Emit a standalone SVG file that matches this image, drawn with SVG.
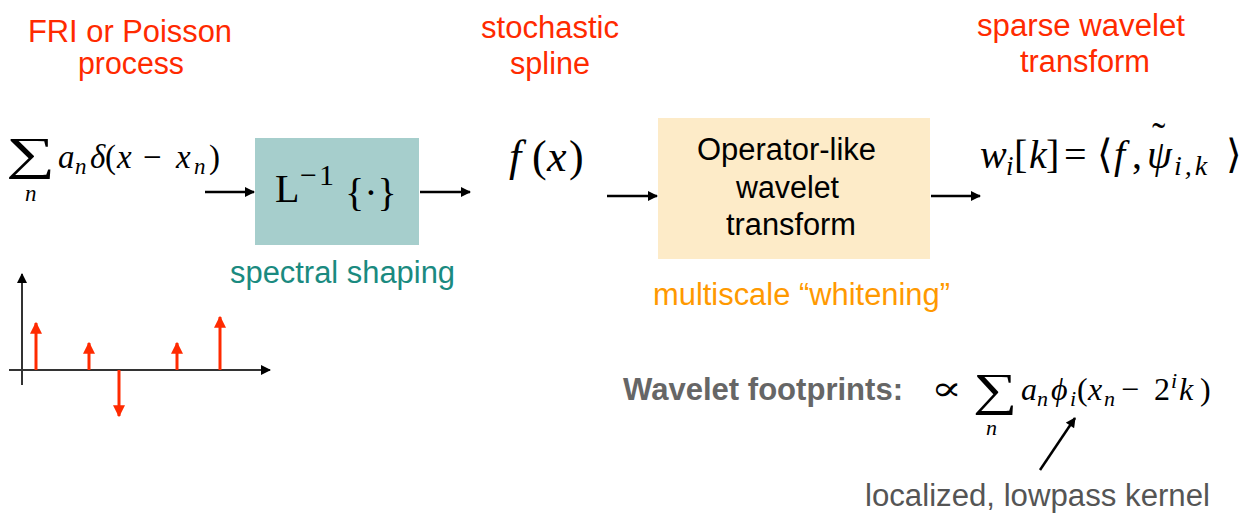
<svg xmlns="http://www.w3.org/2000/svg" width="1259" height="513" viewBox="0 0 1259 513">
<defs>
<style>
.lbl{font-family:"Liberation Sans",Arial,sans-serif;font-size:31px;}
.red{fill:#FF2A00;}
.m{font-family:"Liberation Serif","DejaVu Serif",serif;fill:#000;}
.mi{font-style:italic;}
.box{font-family:"Liberation Sans",Arial,sans-serif;font-size:31px;fill:#000;}
.conn{stroke:#000;stroke-width:2.5;fill:none;}
.stem{stroke:#FF2A00;stroke-width:3;}
.axis{stroke:#333;stroke-width:2;}
</style>
<marker id="ah" viewBox="0 0 10 10" refX="9" refY="5" markerWidth="4.4" markerHeight="4" orient="auto" markerUnits="strokeWidth">
<path d="M0,0 L10,5 L0,10 z" fill="#000"/>
</marker>
<marker id="ax" viewBox="0 0 10 10" refX="9" refY="5" markerWidth="5" markerHeight="5" orient="auto" markerUnits="strokeWidth">
<path d="M0,0 L10,5 L0,10 z" fill="#000"/>
</marker>
<marker id="rh" viewBox="0 0 10 10" refX="9" refY="5" markerWidth="4" markerHeight="4" orient="auto" markerUnits="strokeWidth">
<path d="M0,0 L10,5 L0,10 z" fill="#FF2A00"/>
</marker>
</defs>
<rect width="1259" height="513" fill="#fff"/>

<g id="title-fri">
<text class="lbl red" x="28" y="42" textLength="204" lengthAdjust="spacingAndGlyphs">FRI or Poisson</text>
<text class="lbl red" x="78" y="74" textLength="106" lengthAdjust="spacingAndGlyphs">process</text>
</g>
<g id="title-spline">
<text class="lbl red" x="481" y="38" textLength="138" lengthAdjust="spacingAndGlyphs">stochastic</text>
<text class="lbl red" x="510" y="74" textLength="80" lengthAdjust="spacingAndGlyphs">spline</text>
</g>
<g id="title-sparse">
<text class="lbl red" x="977" y="36" textLength="208" lengthAdjust="spacingAndGlyphs">sparse wavelet</text>
<text class="lbl red" x="1020" y="72" textLength="130" lengthAdjust="spacingAndGlyphs">transform</text>
</g>

<g id="input-formula">
<text class="m" transform="translate(6,169) scale(1.5,1)" x="0" y="0" font-size="46">∑</text>
<text class="m mi" x="25" y="201" font-size="23">n</text>
<text class="m mi" font-size="33" y="168"><tspan x="58">a</tspan><tspan x="75" dy="6" font-size="23">n</tspan><tspan x="90" dy="-6">δ</tspan><tspan x="105" font-style="normal">(</tspan><tspan x="117">x</tspan><tspan x="143" font-style="normal">−</tspan><tspan x="176">x</tspan><tspan x="194" dy="6" font-size="23">n</tspan><tspan x="209" dy="-6" font-style="normal">)</tspan></text>
</g>

<g id="node-L">
<rect x="255" y="138" width="164" height="107" fill="#A6CECC"/>
<text class="m" x="275" y="202" font-size="40">L</text>
<text class="m" y="185" font-size="30"><tspan x="300">−</tspan><tspan x="319">1</tspan></text>
<text class="m" x="345" y="206" font-size="40">{·}</text>
<text class="lbl" x="230" y="283" textLength="225" lengthAdjust="spacingAndGlyphs" fill="#1A8A80">spectral shaping</text>
</g>

<g id="fx">
<text class="m" y="171" font-size="44"><tspan class="mi" x="509">f</tspan><tspan x="532">(</tspan><tspan class="mi" x="547">x</tspan><tspan x="569">)</tspan></text>
</g>

<g id="node-wavelet">
<rect x="658" y="118" width="272" height="141" fill="#FDEBC8"/>
<text class="box" x="697" y="160" textLength="179" lengthAdjust="spacingAndGlyphs">Operator-like</text>
<text class="box" x="736" y="198" textLength="103" lengthAdjust="spacingAndGlyphs">wavelet</text>
<text class="box" x="726" y="235" textLength="130" lengthAdjust="spacingAndGlyphs">transform</text>
<text class="lbl" x="653" y="305" textLength="297" lengthAdjust="spacingAndGlyphs" fill="#FF9900">multiscale “whitening”</text>
</g>

<g id="output-formula">
<text class="m" y="168" font-size="40"><tspan class="mi" x="980">w</tspan><tspan class="mi" x="1006" dy="7" font-size="27">i</tspan><tspan x="1014" dy="-7">[</tspan><tspan class="mi" x="1029">k</tspan><tspan x="1046">]</tspan><tspan x="1064">=</tspan><tspan x="1097">⟨</tspan><tspan class="mi" x="1114">f</tspan><tspan x="1132">,</tspan><tspan class="mi" x="1147">ψ</tspan><tspan class="mi" x="1174" dy="7" font-size="28" letter-spacing="3">i,k</tspan><tspan x="1226" dy="-7">⟩</tspan></text>
<text class="m" x="1152" y="150" font-size="40">˜</text>
</g>

<g id="footprints">
<text x="623" y="400" textLength="280" lengthAdjust="spacingAndGlyphs" font-family="'Liberation Sans',Arial,sans-serif" font-size="31" font-weight="bold" fill="#666">Wavelet footprints:</text>
<text x="931" y="400" transform="translate(931,0) scale(1.35,1) translate(-931,0)" font-family="'DejaVu Serif',serif" font-size="34" fill="#000">∝</text>
<text class="m" transform="translate(973,405) scale(1.35,1)" x="0" y="0" font-size="46">∑</text>
<text class="m mi" x="986" y="435" font-size="22">n</text>
<text class="m mi" font-size="32" y="400"><tspan x="1021">a</tspan><tspan x="1037" dy="6" font-size="22">n</tspan><tspan x="1051" dy="-6">ϕ</tspan><tspan x="1070" dy="6" font-size="22">i</tspan><tspan x="1077" dy="-6" font-style="normal">(</tspan><tspan x="1088">x</tspan><tspan x="1104" dy="6" font-size="22">n</tspan><tspan x="1121" dy="-6" font-style="normal">−</tspan><tspan x="1154" font-style="normal">2</tspan><tspan x="1171" dy="-12" font-size="22">i</tspan><tspan x="1179" dy="12">k</tspan><tspan x="1200" font-style="normal">)</tspan></text>
<text x="865" y="506" textLength="345" lengthAdjust="spacingAndGlyphs" font-family="'Liberation Sans',Arial,sans-serif" font-size="31" fill="#555">localized, lowpass kernel</text>
</g>

<g id="plot">
<line class="axis" x1="22" y1="385" x2="22" y2="274" marker-end="url(#ax)"/>
<line class="axis" x1="9" y1="370" x2="270" y2="370" marker-end="url(#ax)"/>
<line class="stem" x1="36" y1="370" x2="36" y2="323" marker-end="url(#rh)"/>
<line class="stem" x1="89" y1="370" x2="89" y2="343" marker-end="url(#rh)"/>
<line class="stem" x1="119" y1="370" x2="119" y2="416" marker-end="url(#rh)"/>
<line class="stem" x1="177" y1="370" x2="177" y2="343" marker-end="url(#rh)"/>
<line class="stem" x1="220" y1="370" x2="220" y2="317" marker-end="url(#rh)"/>
</g>

<g id="connectors">
<line class="conn" x1="205" y1="192" x2="254" y2="192" marker-end="url(#ah)"/>
<line class="conn" x1="420" y1="192" x2="470" y2="192" marker-end="url(#ah)"/>
<line class="conn" x1="607" y1="196" x2="657" y2="196" marker-end="url(#ah)"/>
<line class="conn" x1="931" y1="196" x2="980" y2="196" marker-end="url(#ah)"/>
<line class="conn" x1="1040" y1="470" x2="1075" y2="418" marker-end="url(#ah)"/>
</g>
</svg>
